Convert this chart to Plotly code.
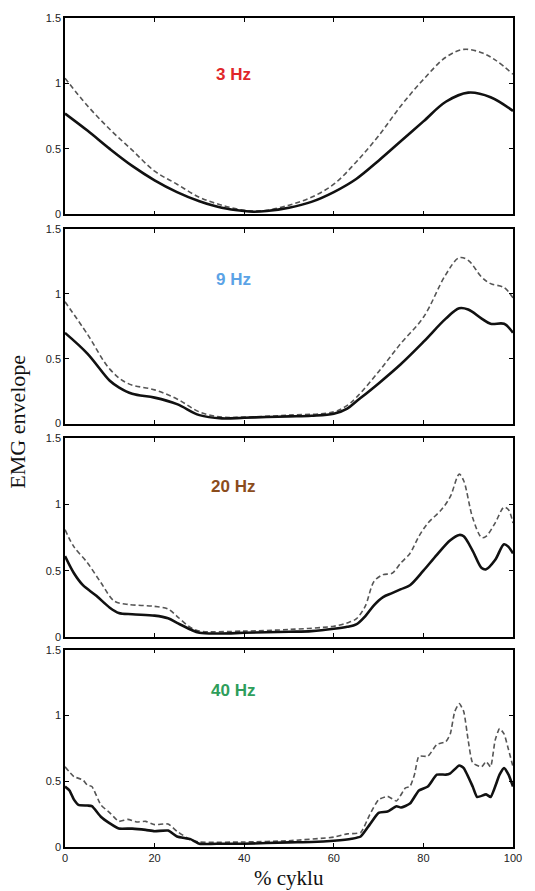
import plotly.graph_objects as go
from plotly.subplots import make_subplots

# ---- data ----
x1 = [0, 5, 10, 15, 20, 25, 30, 35, 40, 42, 45, 50, 55, 60, 65, 70, 75, 80, 85, 90, 95, 100]
s1 = [0.77, 0.64, 0.50, 0.37, 0.26, 0.17, 0.10, 0.05, 0.025, 0.02, 0.025, 0.05, 0.095, 0.17, 0.27, 0.41, 0.56, 0.71, 0.86, 0.93, 0.895, 0.79]
x1d = [0, 5, 10, 15, 20, 25, 30, 35, 40, 42, 45, 50, 55, 60, 65, 70, 75, 80, 85, 89, 93, 96, 100]
d1 = [1.04, 0.83, 0.65, 0.49, 0.33, 0.23, 0.13, 0.07, 0.03, 0.025, 0.03, 0.07, 0.13, 0.23, 0.40, 0.60, 0.83, 1.03, 1.20, 1.26, 1.235, 1.18, 1.07]

x2s = [0, 5, 10, 12, 15, 20, 25, 30, 35, 40, 45, 50, 55, 60, 63, 65, 70, 75, 80, 85, 88, 90, 93, 95, 98, 100]
s2 = [0.70, 0.54, 0.33, 0.28, 0.23, 0.20, 0.15, 0.065, 0.04, 0.045, 0.05, 0.055, 0.06, 0.075, 0.115, 0.17, 0.31, 0.46, 0.63, 0.81, 0.89, 0.88, 0.81, 0.77, 0.77, 0.70]
x2d = [0, 5, 10, 14, 20, 25, 30, 35, 40, 50, 60, 63, 65, 70, 75, 80, 85, 88, 90, 93, 95, 98, 100]
d2 = [0.94, 0.69, 0.42, 0.31, 0.26, 0.19, 0.09, 0.05, 0.05, 0.065, 0.09, 0.14, 0.20, 0.40, 0.62, 0.82, 1.15, 1.28, 1.26, 1.13, 1.08, 1.05, 0.97]

x3s = [0, 2, 4, 7, 10, 12, 15, 20, 23, 25, 28, 30, 35, 40, 50, 55, 60, 63, 65, 67, 69, 71, 73, 75, 77, 80, 83, 86, 88, 89, 91, 93, 94, 96, 98, 99, 100]
s3 = [0.61, 0.48, 0.39, 0.31, 0.22, 0.18, 0.17, 0.16, 0.14, 0.105, 0.055, 0.03, 0.025, 0.03, 0.038, 0.043, 0.06, 0.075, 0.093, 0.155, 0.24, 0.30, 0.33, 0.36, 0.39, 0.50, 0.62, 0.73, 0.77, 0.76, 0.65, 0.52, 0.51, 0.58, 0.70, 0.68, 0.63]
x3d = [0, 2, 5, 8, 11, 14, 20, 23, 25, 28, 30, 40, 50, 60, 63, 65, 67, 69, 71, 73, 75, 77, 79, 81, 84, 86, 88, 89, 91, 93, 94, 96, 98, 99, 100]
d3 = [0.81, 0.68, 0.56, 0.41, 0.27, 0.245, 0.23, 0.21, 0.155, 0.07, 0.043, 0.043, 0.055, 0.08, 0.105, 0.135, 0.23, 0.42, 0.47, 0.48, 0.56, 0.63, 0.76, 0.86, 0.96, 1.06, 1.23, 1.18, 0.90, 0.75, 0.76, 0.86, 0.98, 0.96, 0.86]

x4s = [0, 1, 2, 3, 5, 6, 8, 10, 12, 15, 18, 20, 23, 25, 28, 30, 35, 40, 50, 55, 60, 64, 66, 68, 70, 72, 74, 75, 77, 79, 81, 83, 85, 86, 88, 89, 91, 92, 94, 95, 97, 98, 99, 100]
s4 = [0.46, 0.43, 0.36, 0.32, 0.315, 0.31, 0.23, 0.18, 0.14, 0.14, 0.13, 0.12, 0.125, 0.08, 0.06, 0.025, 0.025, 0.025, 0.035, 0.038, 0.048, 0.063, 0.08, 0.17, 0.26, 0.27, 0.31, 0.30, 0.33, 0.43, 0.46, 0.55, 0.55, 0.56, 0.62, 0.60, 0.46, 0.38, 0.40, 0.38, 0.55, 0.60, 0.55, 0.46]
x4d = [0, 2, 4, 5, 6, 8, 10, 12, 14, 16, 18, 20, 23, 25, 28, 30, 40, 50, 60, 63, 66, 68, 70, 72, 74, 76, 77, 78, 79, 81, 83, 85, 86, 87, 88, 89, 90, 91, 93, 94, 95, 96, 97, 98, 99, 100]
d4 = [0.61, 0.535, 0.51, 0.47, 0.46, 0.32, 0.26, 0.195, 0.21, 0.19, 0.195, 0.17, 0.175, 0.12, 0.055, 0.038, 0.038, 0.048, 0.075, 0.10, 0.11, 0.245, 0.36, 0.385, 0.35, 0.45, 0.46, 0.55, 0.69, 0.69, 0.78, 0.80, 0.86, 1.03, 1.09, 1.03, 0.81, 0.64, 0.61, 0.65, 0.61, 0.81, 0.90, 0.86, 0.74, 0.61]

panel_labels = ["3 Hz", "9 Hz", "20 Hz", "40 Hz"]
label_colors = ["#e0262a", "#5ba3e6", "#8b4c1c", "#2e9e5b"]
label_y = [1.07, 1.115, 1.135, 1.19]
label_x = 37.5

x_ticks = [0, 20, 40, 60, 80, 100]
y_ticks = [0, 0.5, 1, 1.5]
y_tick_text = ["0", "0.5", "1", "1.5"]

panels = [
    (x1, s1, x1d, d1, 1.0),
    (x2s, s2, x2d, d2, 1.0),
    (x3s, s3, x3d, d3, 0.9),
    (x4s, s4, x4d, d4, 0.5),
]

fig = make_subplots(rows=4, cols=1, shared_xaxes=False, vertical_spacing=0.0)

domains = [[0.7632, 1.0], [0.5108, 0.7452], [0.2536, 0.4928], [0.0, 0.2380]]

for i, (xs, ys, xd, yd, sm) in enumerate(panels):
    r = i + 1
    fig.add_trace(go.Scatter(x=xd, y=yd, mode="lines",
                             line=dict(color="#555555", width=1.6, dash="5px,3px", shape="spline", smoothing=sm),
                             showlegend=False, hoverinfo="skip"), row=r, col=1)
    fig.add_trace(go.Scatter(x=xs, y=ys, mode="lines",
                             line=dict(color="#111111", width=2.6, shape="spline", smoothing=sm),
                             showlegend=False, hoverinfo="skip"), row=r, col=1)
    fig.update_xaxes(range=[0, 100], tickvals=x_ticks, ticks="inside", ticklen=4, tickcolor="#000",
                     showline=True, linecolor="#000", linewidth=1.5, mirror="ticks",
                     showgrid=False, zeroline=False, showticklabels=(r == 4),
                     tickfont=dict(family="Liberation Sans, Arial", size=11, color="#222"),
                     row=r, col=1)
    fig.update_yaxes(range=[0, 1.5], tickvals=y_ticks, ticktext=y_tick_text, ticks="inside", ticklen=4,
                     tickcolor="#000", showline=True, linecolor="#000", linewidth=1.5, mirror="ticks",
                     showgrid=False, zeroline=False, domain=domains[i],
                     tickfont=dict(family="Liberation Sans, Arial", size=11, color="#222"),
                     row=r, col=1)
    xref = "x" if r == 1 else f"x{r}"
    yref = "y" if r == 1 else f"y{r}"
    fig.add_annotation(x=label_x, y=label_y[i], xref=xref, yref=yref, text=f"<b>{panel_labels[i]}</b>",
                       showarrow=False, font=dict(family="Liberation Sans, Arial", size=17, color=label_colors[i]))

fig.add_annotation(x=0.5, y=-0.0529, xref="paper", yref="paper", yanchor="bottom", showarrow=False,
                   borderpad=0, text="% cyklu",
                   font=dict(family="Liberation Serif, Times New Roman", size=21, color="#111"))
fig.add_annotation(x=-0.105, y=0.513, xref="paper", yref="paper", xanchor="center", yanchor="middle",
                   showarrow=False, text="EMG envelope", textangle=-90,
                   font=dict(family="Liberation Serif, Times New Roman", size=22, color="#111"))

fig.update_layout(width=535, height=891, margin=dict(l=65, r=22, t=15, b=44),
                  paper_bgcolor="white", plot_bgcolor="white")

fig.write_html("out.html")
